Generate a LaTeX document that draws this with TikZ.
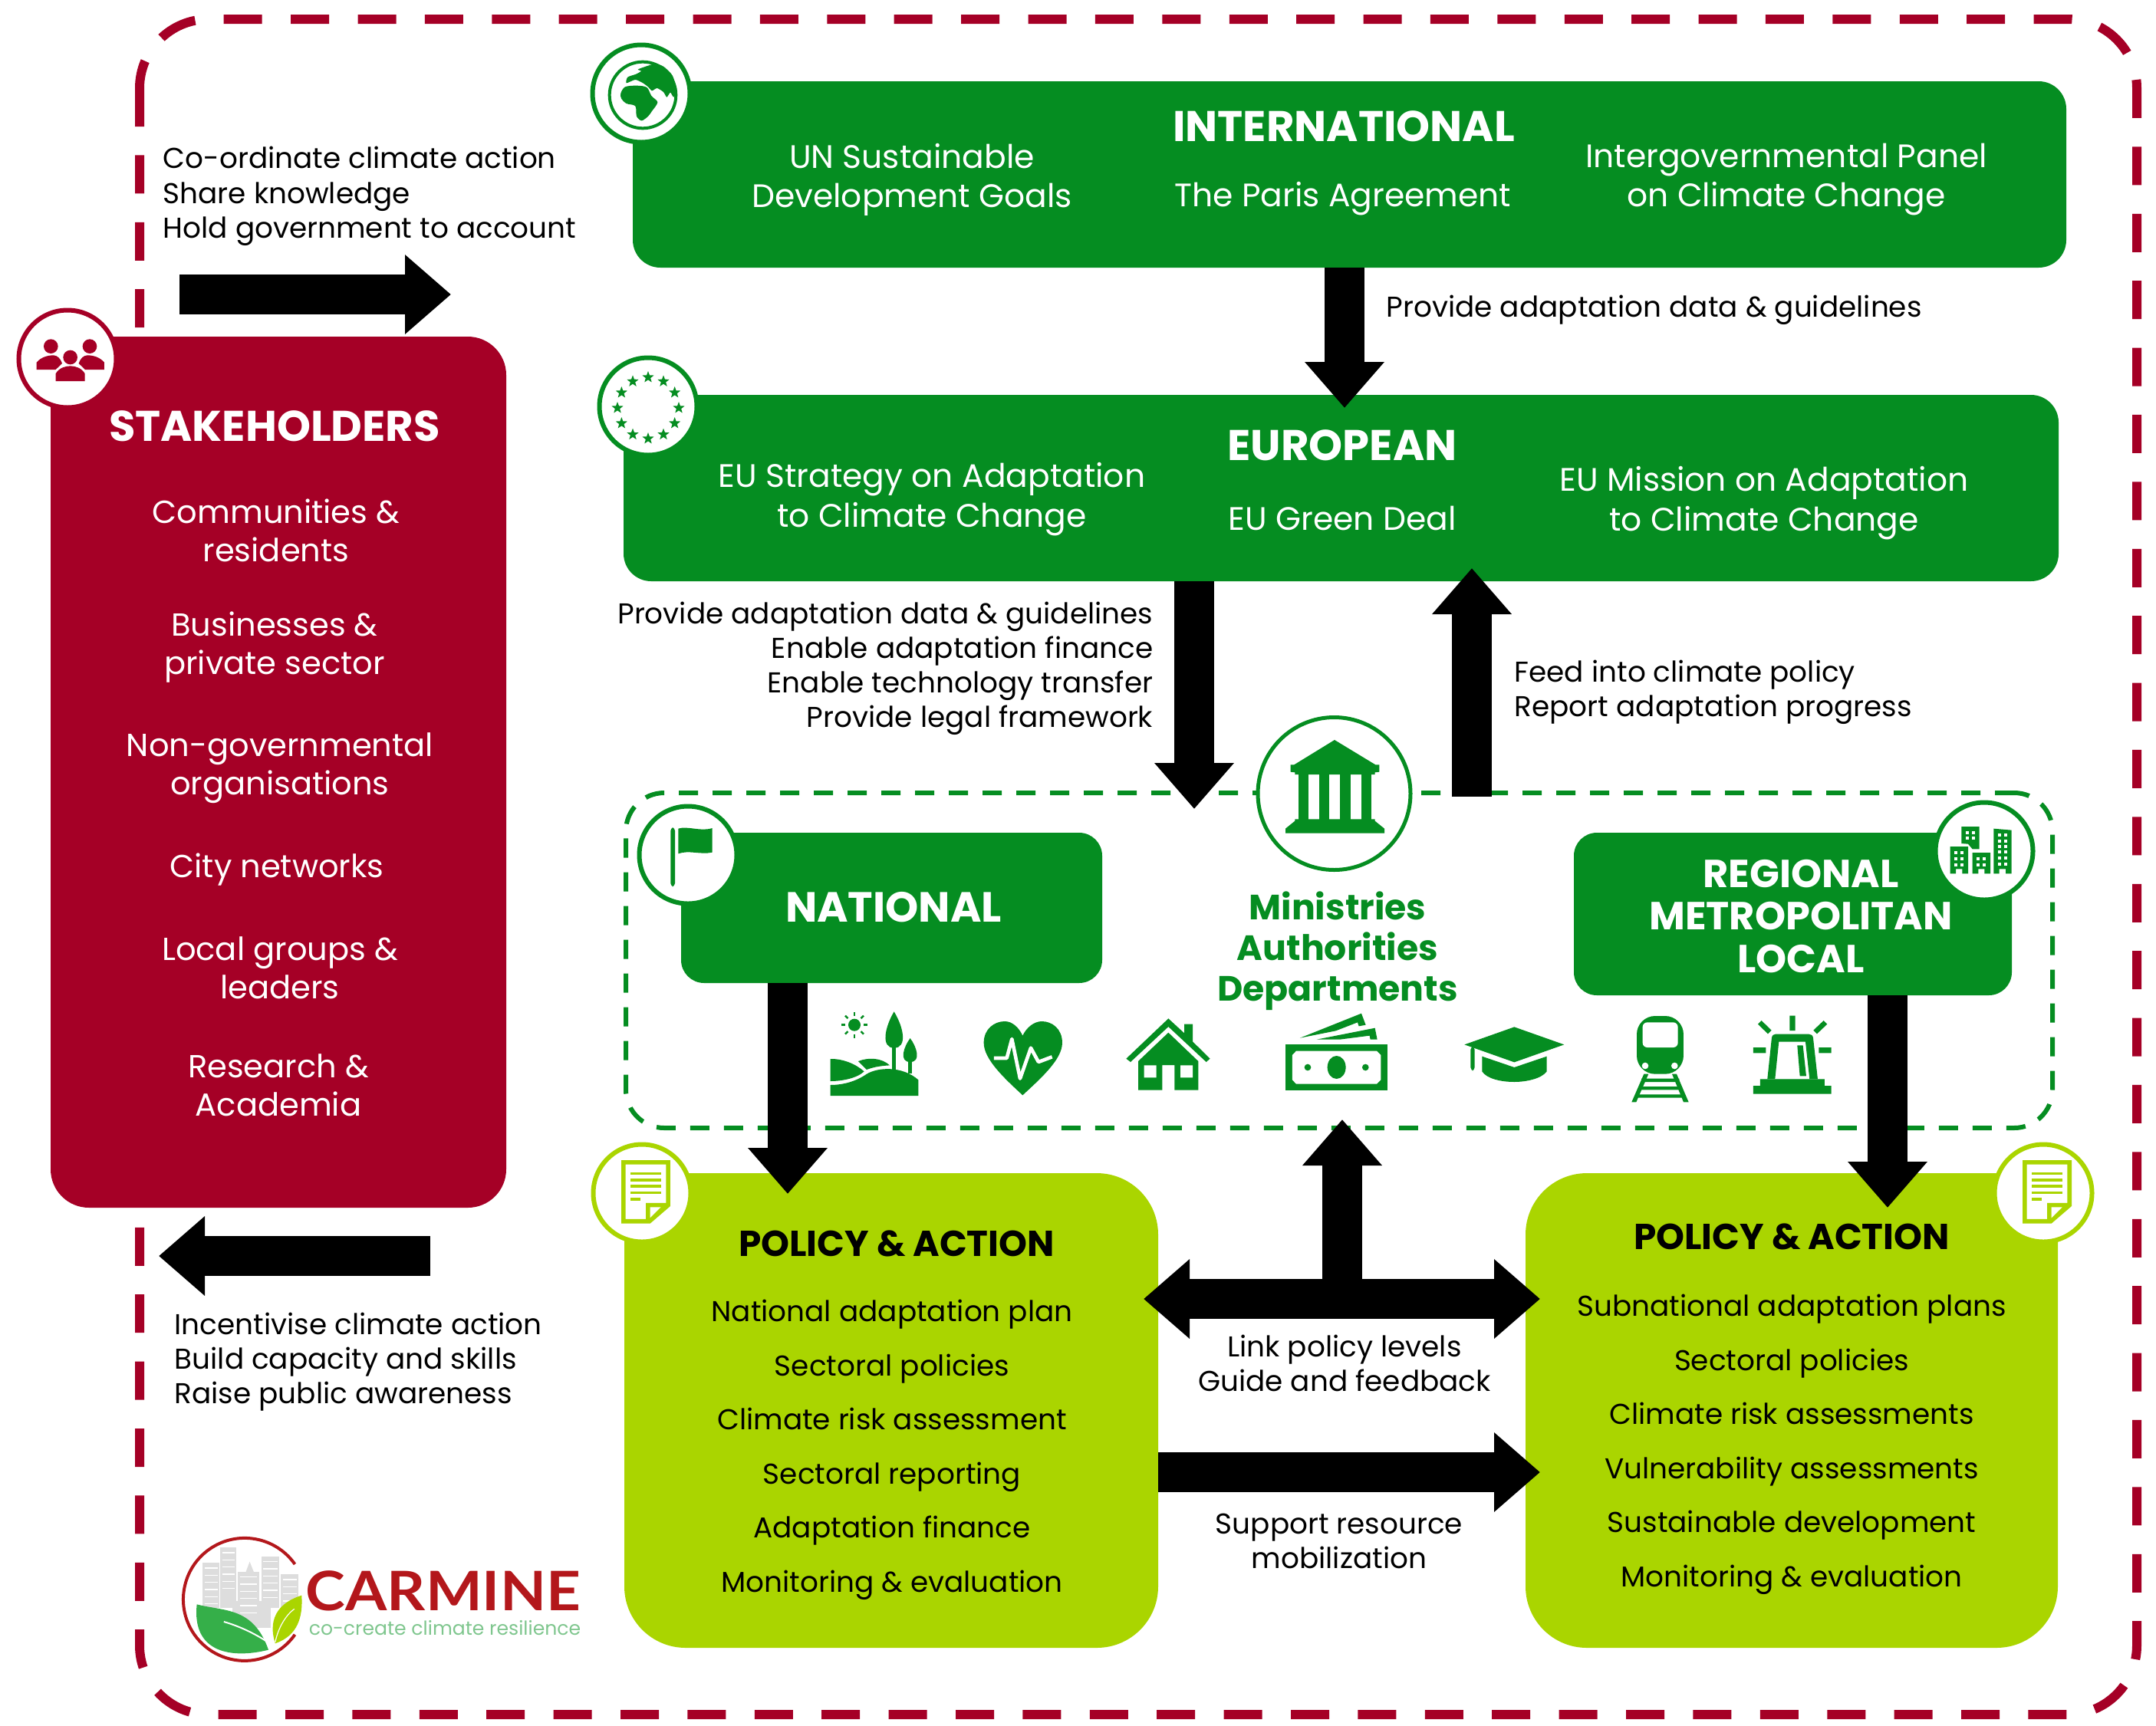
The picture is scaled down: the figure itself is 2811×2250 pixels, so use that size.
\documentclass[tikz,border=0pt]{standalone}
\usepackage{fontspec}
\setmainfont{Poppins}
\newfontfamily\logofont[FakeStretch=1.1]{Lato}
\usetikzlibrary{arrows.meta,shapes.geometric}
\definecolor{cgreen}{HTML}{058D21}
\definecolor{clime}{HTML}{AAD500}
\definecolor{cred}{HTML}{A50026}
\definecolor{logored}{HTML}{B3171B}
\definecolor{logogreen}{HTML}{7FC68E}
\definecolor{leafgreen}{HTML}{35AF49}
\definecolor{cityfill}{HTML}{DDDDDD}
\tikzset{every picture/.style={line width=0.75pt}}
\tikzset{
  box/.style={inner sep=0pt,outer sep=0pt},
  greenbox/.style={box,fill=cgreen,rounded corners=18pt},
  limebox/.style={box,fill=clime,rounded corners=40pt},
  redbox/.style={box,fill=cred,rounded corners=25pt},
  badge/.style={circle,fill=white,draw=#1,line width=3pt,minimum size=63.5pt,inner sep=0pt},
  blocktip/.style={>={Triangle[length=30pt,width=50pt]}},
  blockarrow/.style={blocktip,line width=26pt,->},
  note/.style={font=\fontsize{18.7}{22.6}\selectfont,inner sep=0pt},
  whitetext/.style={font=\fontsize{21.2}{25.6}\selectfont,text=white,align=center,inner sep=0pt},
  stakeitem/.style={font=\fontsize{20.8}{25.2}\selectfont,text=white,align=center,inner sep=0pt},
  whitehead/.style={font=\fontsize{28}{28}\selectfont\bfseries,text=white,align=center,inner sep=0pt},
  policyhead/.style={font=\fontsize{23.5}{26}\selectfont\bfseries,inner sep=0pt},
  policylist/.style={font=\fontsize{18.7}{35.25}\selectfont,align=center,inner sep=0pt},
  docicon/.pic={
    \begin{scope}[shift={(-67,-66.3)},scale=0.3333]
      \fill[clime,even odd rule] (120,80) -- (233,80) -- (312,148) -- (312,328) -- (120,328) -- cycle
        (137,97) -- (216,97) -- (216,160) -- (295,160) -- (295,311) -- (137,311) -- cycle;
      \fill[white] (233,102) -- (275,144) -- (233,144) -- cycle;
      \fill[clime] (157,170) rectangle (196,181);
      \foreach \ly in {195,220,245,270}
        \fill[clime] (157,\ly) rectangle (275,\ly+11);
    \end{scope}
  }
}

\begin{document}
\begin{tikzpicture}[x=0.5pt,y=0.5pt,yscale=-1,xscale=1]
\useasboundingbox (0,0) rectangle (2811,2250);

%Shape: Dashed frame
\draw [cred,line width=6pt,dash pattern=on 25pt off 18.7pt,rounded corners=45pt] (182,25) rectangle (2786,2236);

% Boxes
\draw (1759.5,227.5) node (intl) [greenbox,minimum width=934.5pt,minimum height=121.5pt] {};
\draw (1748.5,636.5) node (euro) [greenbox,minimum width=935.5pt,minimum height=121.5pt] {};
\draw (363,1007) node (stake) [redbox,minimum width=297pt,minimum height=568pt] {};
\draw (1746,1252.5) node (gov) [box,draw=cgreen,fill=white,line width=3pt,dash pattern=on 12.5pt off 9.5pt,rounded corners=25pt,minimum width=930pt,minimum height=218.5pt] {};
\draw (1162.5,1184) node (nat) [greenbox,rounded corners=15pt,minimum width=274.5pt,minimum height=98pt] {};
\draw (2337.5,1192) node (reg) [greenbox,rounded corners=15pt,minimum width=285.5pt,minimum height=106pt] {};
\draw (1162,1839.5) node (polnat) [limebox,minimum width=348pt,minimum height=309.5pt] {};
\draw (2336,1839.5) node (polreg) [limebox,minimum width=347pt,minimum height=309.5pt] {};

% Arrow ends
\coordinate (stakefrom) at (234,384);
\coordinate (staketo) at (588,384);
\coordinate (backfrom) at (561,1638);
\coordinate (backto) at (207,1638);
\coordinate (euroin) at (1753,532);
\coordinate (natin) at (1557,1055);
\coordinate (govup) at (1919,1039);
\coordinate (euroup) at (1919,741);
\coordinate (natdown) at (1027,1557);
\coordinate (regdown) at (2461,1575);
\coordinate (linkrow) at (1750,1694);
\coordinate (govin) at (1750,1460);
\coordinate (supportrow) at (1750,1920);

% Connection
\draw [blockarrow] (stakefrom) -- (staketo);
\draw [blockarrow] (backfrom) -- (backto);
\draw [blockarrow] (intl.south -| euroin) -- (euroin);
\draw [blockarrow] (euro.south -| natin) -- (natin);
\draw [blockarrow] (govup) -- (euroup);
\draw [blockarrow] (nat.south -| natdown) -- (natdown);
\draw [blockarrow] (reg.south -| regdown) -- (regdown);
\draw [blockarrow] (linkrow) -- (govin);
\draw [blockarrow,<->,shorten <=-9.5pt,shorten >=-9.5pt] (polnat.east |- linkrow) -- (polreg.west |- linkrow);
\draw [blockarrow,shorten >=-9.5pt] (polnat.east |- supportrow) -- (polreg.west |- supportrow);

% Badges
\draw (836,122) node (intlbadge) [badge=cgreen] {};
\draw (845,530) node (eurobadge) [badge=cgreen] {};
\draw (88,468) node (stakebadge) [badge=cred] {};
\draw (897,1115) node (natbadge) [badge=cgreen] {};
\draw (2587,1110) node (regbadge) [badge=cgreen] {};
\draw (837,1556) node (polnatbadge) [badge=clime] {};
\draw (2664,1556) node (polregbadge) [badge=clime] {};
\draw (1739.5,1035) node (govbadge) [badge=cgreen,line width=2.5pt,minimum size=99.5pt] {};

%Shape: Globe
\begin{scope}[shift={(750,30)},scale=0.3333]
  \draw [cgreen,line width=2pt] (264,282) circle [radius=130];
  \fill [cgreen] plot [smooth cycle,tension=0.5] coordinates {(178,275) (195,250) (240,245) (280,252) (298,285) (322,310) (300,345) (285,365) (260,382) (240,365) (235,325) (200,315) (180,295)};
  \fill [cgreen] plot [smooth cycle,tension=0.4] coordinates {(200,235) (235,222) (265,235) (285,250) (300,265) (320,255) (345,270) (358,290) (372,272) (385,290) (397,262) (380,205) (345,170) (312,160) (270,172) (245,182) (258,188) (238,200) (205,212)};
\end{scope}

%Shape: EU stars
\foreach \a in {0,30,...,330}
  \node (star\a) [star,star points=5,star point ratio=2.4,fill=cgreen,inner sep=0pt,minimum size=8pt] at ({845+40*cos(\a)},{532+40*sin(\a)}) {};

%Shape: People
\begin{scope}[shift={(20,400)},scale=0.3333,cred]
  \fill (139,155) circle [radius=28] (291,155) circle [radius=28] (215,198) circle [radius=28];
  \fill (83,246) -- (83,218) .. controls (100,198) and (125,190) .. (150,190) .. controls (165,192) and (175,200) .. (183,222) -- (158,246) -- cycle;
  \fill (348,246) -- (348,218) .. controls (331,198) and (306,190) .. (281,190) .. controls (266,192) and (256,200) .. (248,222) -- (273,246) -- cycle;
  \fill (158,291) -- (158,262) .. controls (170,240) and (195,232) .. (215,232) .. controls (235,232) and (260,240) .. (272,262) -- (272,291) -- cycle;
\end{scope}

%Shape: Flag
\begin{scope}[shift={(830,1050)},scale=0.3333,cgreen]
  \fill [rounded corners=2pt] (133,88) rectangle (150,318);
  \fill (163,92) .. controls (200,80) and (250,105) .. (296,90) -- (296,185) .. controls (250,195) and (205,175) .. (163,190) -- cycle;
\end{scope}

%Shape: City
\begin{scope}[shift={(2500,1040)},scale=0.3333,cgreen]
  \fill (128,298) -- (128,192) -- (198,192) -- (198,298) -- (175,298) -- (175,280) -- (150,280) -- (150,298) -- cycle;
  \fill (172,114) -- (242,114) -- (242,202) -- (215,202) -- (198,182) -- (172,180) -- cycle;
  \fill (215,298) -- (215,216) -- (285,216) -- (285,298) -- (262,298) -- (262,280) -- (238,280) -- (238,298) -- cycle;
  \fill (298,298) -- (298,122) -- (368,128) -- (368,298) -- (345,298) -- (345,280) -- (320,280) -- (320,298) -- cycle;
  \foreach \wx/\wy in {150/215,175/215,150/240,175/240,150/265,175/265,195/137,220/137,195/160,220/160,238/240,262/240,238/264,262/264}
    \fill [white] (\wx-6,\wy-6) rectangle (\wx+6,\wy+6);
  \foreach \wy in {148,170,192,214,236,260} {
    \fill [white] (320-6,\wy-6) rectangle (320+6,\wy+6);
    \fill [white] (345-6,\wy-6) rectangle (345+6,\wy+6);
  }
\end{scope}

%Shape: Documents
\pic at (polnatbadge) {docicon};
\pic at (polregbadge) {docicon};

%Shape: Bank
\begin{scope}[shift={(1600,920)},scale=0.3333,cgreen]
  \fill (420,135) -- (580,232) -- (595,232) -- (595,260) -- (578,262) -- (578,270) -- (265,270) -- (265,262) -- (248,260) -- (248,232) -- (262,232) -- cycle;
  \foreach \cx in {278,360,442,524}
    \fill (\cx,268) rectangle (\cx+40,447);
  \fill (265,445) -- (578,445) -- (578,452) -- (615,482) -- (615,500) -- (228,500) -- (228,482) -- (265,452) -- cycle;
\end{scope}

%Shape: Landscape and heart
\begin{scope}[shift={(1070,1310)},scale=0.3333,cgreen]
  \fill (132,80) circle [radius=24];
  \foreach \a in {0,45,...,315}
    \draw [line width=1.2pt] ({132+36*cos(\a)},{80+36*sin(\a)}) -- ({132+51*cos(\a)},{80+51*sin(\a)});
  \fill (287,28) .. controls (250,90) and (235,170) .. (287,170) .. controls (340,170) and (325,90) .. (287,28) -- cycle;
  \fill (279,165) rectangle (295,255);
  \fill (350,132) .. controls (325,165) and (305,225) .. (350,225) .. controls (395,225) and (375,165) .. (350,132) -- cycle;
  \fill (343,220) rectangle (358,270);
  \fill (38,213) .. controls (90,212) and (140,235) .. (170,262) .. controls (140,290) and (80,300) .. (38,300) -- cycle;
  \fill (147,222) .. controls (190,205) and (240,210) .. (270,238) .. controls (235,240) and (205,245) .. (180,255) -- cycle;
  \fill (38,315) .. controls (90,315) and (140,300) .. (180,272) .. controls (225,245) and (320,240) .. (382,295) -- (382,357) -- (38,357) -- cycle;
  \fill (790,355) .. controls (720,290) and (638,215) .. (638,150) .. controls (638,95) and (680,66) .. (720,66) .. controls (750,66) and (775,90) .. (790,122) .. controls (805,90) and (835,66) .. (865,66) .. controls (905,66) and (945,95) .. (945,150) .. controls (945,215) and (860,290) .. (790,355) -- cycle;
  \draw [white,line width=2.3pt,line join=round] (678,210) -- (728,210) -- (748,135) -- (780,290) -- (822,170) -- (852,225) -- (905,205);
\end{scope}

%Shape: House and money
\begin{scope}[shift={(1460,1310)},scale=0.3333,cgreen]
  \fill (25,212) -- (190,55) -- (252,112) -- (252,77) -- (285,77) -- (285,145) -- (353,212) -- (338,225) -- (190,87) -- (42,225) -- cycle;
  \fill (190,110) -- (307,222) -- (307,335) -- (214,335) -- (214,237) -- (166,237) -- (166,335) -- (72,335) -- (72,222) -- cycle;
  \fill [white] (95,238) rectangle (143,286) (237,238) rectangle (285,286);
  \fill (649,156) rectangle (1047,336);
  \fill [white] (690,182) -- (1005,182) -- (1021,198) -- (1021,295) -- (1005,311) -- (690,311) -- (675,295) -- (675,198) -- cycle;
  \fill (848,246) ellipse [x radius=36,y radius=45];
  \fill (735,246) circle [radius=13] (961,246) circle [radius=13];
  \fill (705,131) -- (945,35) -- (962,80) -- (935,85) -- (930,70) -- (845,103) -- cycle;
  \fill (770,137) -- (998,92) -- (1007,137) -- (980,137) -- (977,122) -- (860,137) -- cycle;
\end{scope}

%Shape: Cap, train and siren
\begin{scope}[shift={(1900,1310)},scale=0.3333,cgreen]
  \fill (28,157) -- (223,88) -- (418,157) -- (223,226) -- cycle;
  \fill [rounded corners=2pt] (52,165) rectangle (68,258);
  \fill (97,203) -- (223,246) -- (350,203) -- (350,262) .. controls (330,290) and (270,303) .. (223,303) .. controls (170,303) and (115,290) .. (97,262) -- cycle;
  \fill [rounded corners=12pt] (702,45) rectangle (885,272);
  \fill [white,rounded corners=3pt] (725,70) rectangle (863,168);
  \fill [white] (735,240) circle [radius=13] (850,240) circle [radius=13];
  \fill (730,272) -- (682,382) -- (700,382) -- (748,272) -- cycle;
  \fill (840,272) -- (885,382) -- (905,382) -- (858,272) -- cycle;
  \fill (720,290) rectangle (868,303) (710,321) rectangle (878,334) (700,352) rectangle (888,365);
  \fill (1158,318) rectangle (1463,350) (1185,292) rectangle (1437,318);
  \fill [even odd rule] (1213,292) -- (1230,130) .. controls (1232,120) and (1238,116) .. (1245,116) -- (1375,116) .. controls (1384,116) and (1390,120) .. (1392,130) -- (1410,292) -- cycle
    (1243,292) -- (1258,146) -- (1362,146) -- (1378,292) -- cycle;
  \fill (1330,160) -- (1352,160) -- (1365,280) -- (1340,280) -- cycle;
  \fill (1300,44) rectangle (1322,102) (1158,168) rectangle (1207,190) (1414,168) rectangle (1463,190);
  \draw [line width=3.3pt] (1183,70) -- (1222,108) (1440,70) -- (1400,108);
\end{scope}

%Shape: Logo
\draw [logored,line width=2pt] (384.5,2040) arc [start angle=-35,end angle=-325,radius=80];
\begin{scope}[shift={(200,1960)},xscale=0.3827,yscale=0.3333]
  \foreach \bx/\btop/\bw in {168/235/57,228/175/55,288/270/72,368/210/60,435/280/60}
    \fill [cityfill] (\bx,\btop) rectangle (\bx+\bw,410);
  \fill [cityfill] (268,385) rectangle (400,490);
  \fill [cityfill] (315,270) -- (328,230) -- (342,270) -- cycle;
  \foreach \bx/\btop/\bw in {168/235/57,228/175/55,288/270/72,368/210/60,435/280/60}
    \foreach \wy in {0,28,...,140}
      \draw [white,line width=0.6pt] (\bx+6,\btop+20+\wy) -- (\bx+\bw-6,\btop+20+\wy);
  \fill [leafgreen] (148,397) .. controls (240,425) and (340,405) .. (392,575) .. controls (270,610) and (130,590) .. cycle;
  \draw [white,line width=1pt] (240,465) .. controls (300,485) and (350,515) .. (390,545);
  \fill [clime] (505,362) .. controls (440,385) and (385,440) .. (415,550) .. controls (490,520) and (510,450) .. cycle;
  \draw [white,line width=0.6pt] (415,545) .. controls (425,490) and (450,440) .. (480,415);
\end{scope}
\draw (578,2075) node (logoname) [font=\fontsize{35.5}{40}\selectfont\logofont\bfseries,text=logored,inner sep=0pt] {CARMINE};
\draw (580,2123) node (logotag) [font=\fontsize{12.55}{14}\selectfont,text=logogreen,inner sep=0pt] {co-create climate resilience};

% Text Node
\draw (212,256) node (stakeaction) [note,anchor=west,align=left] {Co-ordinate climate action\\Share knowledge\\Hold government to account};
\draw (227,1776) node (stakeback) [note,anchor=west,align=left] {Incentivise climate action\\Build capacity and skills\\Raise public awareness};
\draw (1752,165) node (intltitle) [whitehead] {INTERNATIONAL};
\draw (1189,234) node (intlun) [whitetext] {UN Sustainable\\Development Goals};
\draw (1751,259) node (intlparis) [whitetext] {The Paris Agreement};
\draw (2329,234) node (intlipcc) [whitetext] {Intergovernmental Panel\\on Climate Change};
\draw (1807,404) node (intlnote) [note,anchor=west] {Provide adaptation data \& guidelines};
\draw (1750,581) node (eurotitle) [whitehead] {EUROPEAN};
\draw (1215,651) node (eurostrategy) [whitetext] {EU Strategy on Adaptation\\to Climate Change};
\draw (1750,676) node (eurodeal) [whitetext] {EU Green Deal};
\draw (2300,656) node (euromission) [whitetext] {EU Mission on Adaptation\\to Climate Change};
\draw (1504,872) node (euronote) [note,anchor=east,align=right] {Provide adaptation data \& guidelines\\Enable adaptation finance\\Enable technology transfer\\Provide legal framework};
\draw (1974,903) node (feednote) [note,anchor=west,align=left] {Feed into climate policy\\Report adaptation progress};
\draw (1744,1240) node (govtitle) [font=\fontsize{22.9}{26.5}\selectfont\bfseries,text=cgreen,align=center,inner sep=0pt] {Ministries\\Authorities\\Departments};
\draw (1165,1183) node (nattitle) [whitehead,font=\fontsize{27.5}{28}\selectfont\bfseries] {NATIONAL};
\draw (2348,1195) node (regtitle) [whitehead,font=\fontsize{25.5}{27.7}\selectfont\bfseries] {REGIONAL\\METROPOLITAN\\LOCAL};
\draw (1169,1622) node (polnattitle) [policyhead] {POLICY \& ACTION};
\draw (2336,1613) node (polregtitle) [policyhead] {POLICY \& ACTION};
\draw (1163,1891) node (polnatlist) [policylist] {National adaptation plan\\Sectoral policies\\Climate risk assessment\\Sectoral reporting\\Adaptation finance\\Monitoring \& evaluation};
\draw (2336,1884) node (polreglist) [policylist] {Subnational adaptation plans\\Sectoral policies\\Climate risk assessments\\Vulnerability assessments\\Sustainable development\\Monitoring \& evaluation};
\draw (1753,1778) node (linknote) [note,align=center] {Link policy levels\\Guide and feedback};
\draw (1746,2010) node (supportnote) [note,align=center] {Support resource\\mobilization};
\draw (358,556) node (staketitle) [whitehead] {STAKEHOLDERS};
\draw (360,692) node (stakecomm) [stakeitem] {Communities \&\\residents};
\draw (358,844) node (stakebiz) [stakeitem] {Businesses \&\\private sector};
\draw (365,1002) node (stakengo) [stakeitem] {Non-governmental\\organisations};
\draw (361,1134) node (stakecity) [stakeitem] {City networks};
\draw (365,1262) node (stakelocal) [stakeitem] {Local groups \&\\leaders};
\draw (363,1415) node (stakeres) [stakeitem] {Research \&\\Academia};

\end{tikzpicture}
\end{document}
